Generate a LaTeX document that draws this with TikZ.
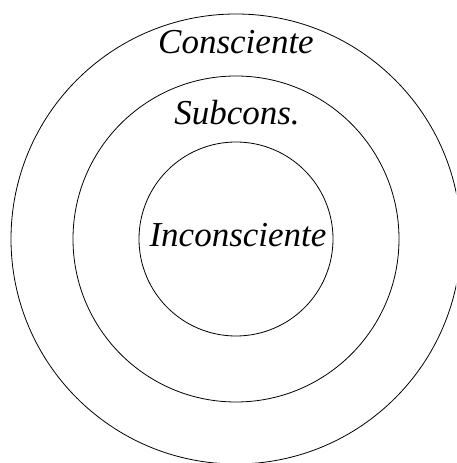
\documentclass[tikz,border=0pt]{standalone}
\usepackage{fontspec}
\setmainfont{Liberation Serif}
\begin{document}
\begin{tikzpicture}[x=1pt,y=1pt,
  ring/.style={draw=black,line width=0.8pt},
  lbl/.style={anchor=base,inner sep=0pt,font=\fontsize{35}{38}\selectfont\itshape}]
\useasboundingbox (0,0) rectangle (456,463);
\clip (0,0) rectangle (456,463);
\coordinate (c) at (236,224);
\node[ring,circle,minimum size=450pt,inner sep=0pt] (outer) at (c) {};
\node[ring,circle,minimum size=326pt,inner sep=0pt] (middle) at (c) {};
\node[ring,circle,minimum size=194pt,inner sep=0pt] (inner) at (c) {};
\node[lbl] (t1) at (236,409) {Consciente};
\node[lbl] (t2) at (237,338) {Subcons.};
\node[lbl] (t3) at (238,216) {Inconsciente};
\end{tikzpicture}
\end{document}
